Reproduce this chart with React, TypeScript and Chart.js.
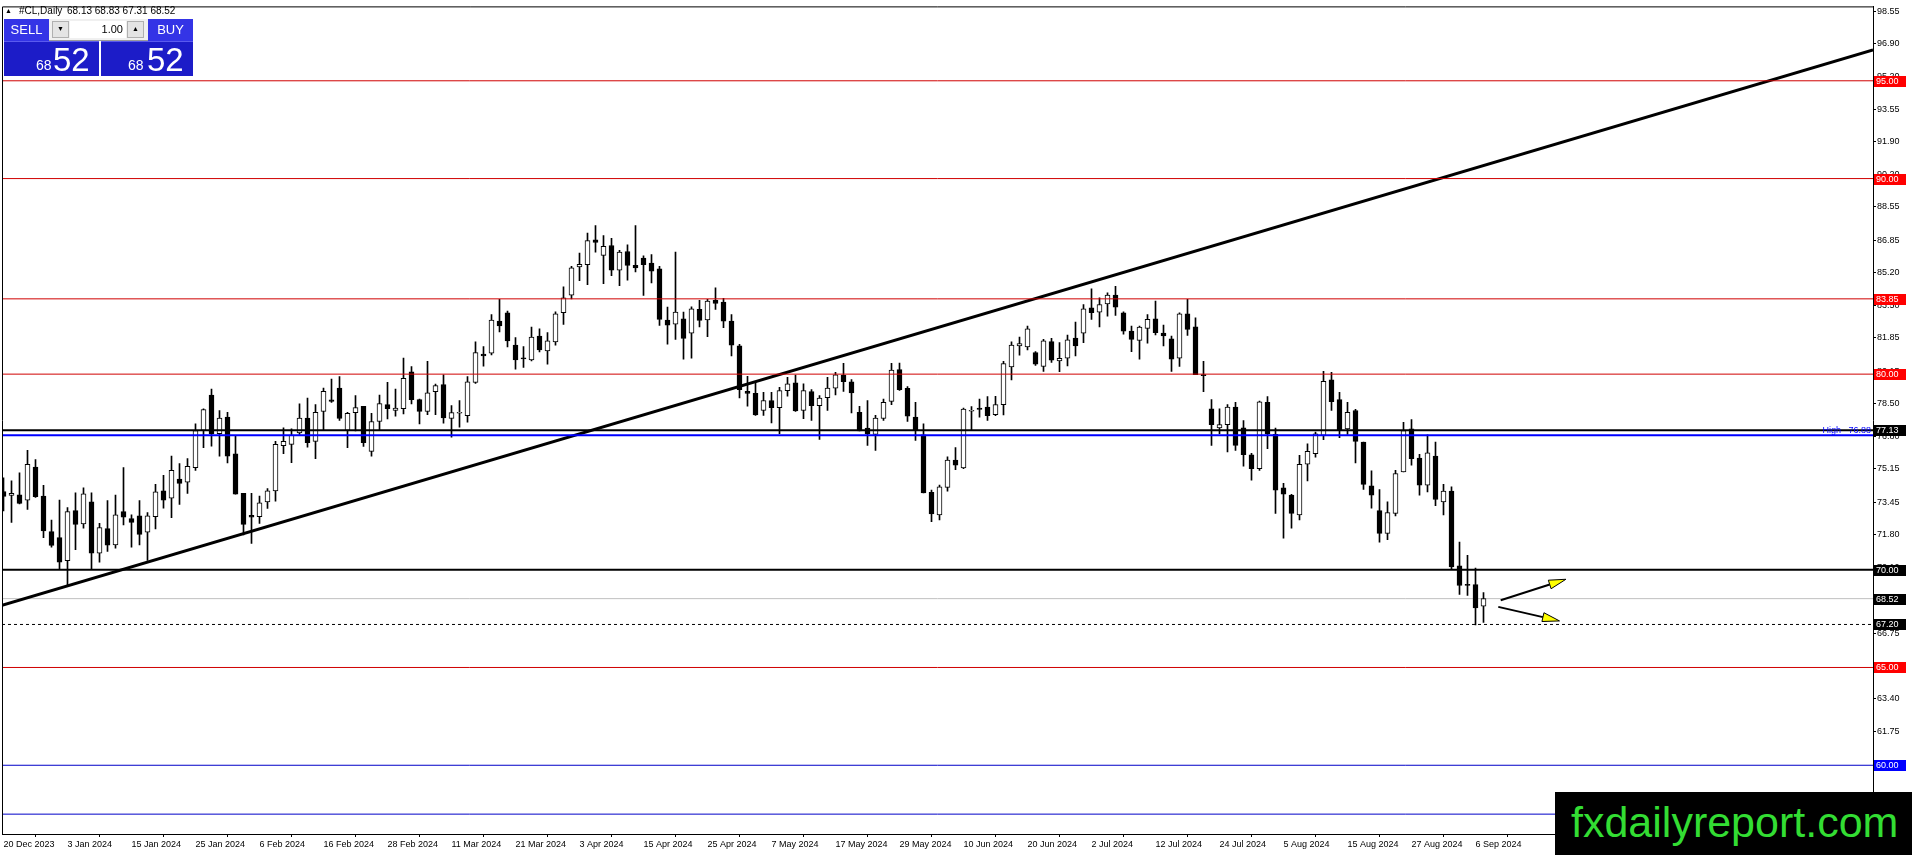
import React, { useEffect, useRef } from "react";
import { Chart, registerables } from "chart.js";

Chart.register(...registerables);

// ---------- data ----------
const symbolTitle = "#CL,Daily";
const headerQuote = [68.13, 68.83, 67.31, 68.52];
const lotSize = "1.00";
const bidBig = "52";
const bidSmall = "68";

const opens = [
  74.0, 73.8, 73.83, 73.56, 75.25, 73.76, 71.95, 71.64, 70.46, 73.02,
  72.34, 73.47, 70.85, 72.1, 71.27, 72.97, 72.61, 72.76, 71.92, 72.71,
  74.03, 73.66, 74.64, 74.47, 75.22, 77.12, 78.93, 76.95, 77.8, 75.92,
  73.9, 72.78, 72.71, 73.47, 74.03, 76.34, 76.41, 77.0, 77.75, 76.56,
  78.09, 78.68, 79.29, 77.12, 78.03, 78.36, 76.05, 77.58, 78.44, 78.14,
  78.24, 80.12, 78.7, 78.09, 79.1, 79.46, 77.73, 78.0, 77.88, 79.58,
  81.02, 81.07, 82.71, 83.14, 81.49, 80.82, 80.73, 81.95, 81.19, 81.65,
  83.14, 84.04, 85.48, 85.6, 86.87, 86.07, 86.58, 85.31, 86.27, 85.56,
  85.94, 85.68, 85.38, 82.77, 82.55, 82.83, 82.09, 83.31, 82.77, 83.77,
  83.68, 82.71, 81.45, 79.12, 79.02, 78.14, 78.65, 78.28, 79.16, 79.56,
  78.14, 79.11, 78.39, 78.8, 79.28, 79.95, 79.61, 78.05, 77.24, 76.92,
  77.73, 78.61, 80.23, 79.28, 77.8, 76.9, 73.95, 72.8, 74.21, 75.6,
  75.21, 78.1, 78.26, 78.31, 77.93, 78.44, 80.37, 81.44, 81.39, 81.1,
  80.39, 81.66, 80.68, 80.81, 81.85, 82.09, 83.39, 83.17, 83.59, 84.04,
  83.14, 82.2, 81.73, 82.34, 82.83, 82.1, 81.81, 80.81, 83.09, 82.42,
  79.97, 78.22, 77.25, 77.42, 78.31, 77.26, 75.88, 75.17, 78.56, 76.92,
  74.19, 73.81, 72.8, 75.39, 75.93, 76.87, 79.71, 78.7, 77.2, 78.14,
  76.53, 74.29, 73.02, 71.86, 72.88, 75.0, 77.2, 75.71, 74.32, 75.81,
  73.46, 74.02, 70.2, 69.22, 69.24, 68.13,
];
const highs = [
  74.7, 74.54, 74.95, 76.1, 75.63, 74.32, 72.54, 73.56, 73.17, 73.93,
  74.19, 73.93, 72.37, 73.53, 73.81, 75.22, 72.8, 73.53, 72.92, 74.36,
  74.83, 75.81, 75.42, 75.68, 77.46, 78.22, 79.24, 78.14, 78.05, 76.83,
  73.9, 73.9, 73.76, 74.15, 76.56, 77.26, 77.2, 78.48, 78.78, 78.44,
  79.29, 79.75, 79.88, 78.05, 78.9, 78.36, 78.0, 78.93, 79.58, 79.24,
  80.82, 80.39, 78.73, 80.65, 79.49, 79.97, 78.39, 78.65, 79.88, 81.65,
  81.41, 83.05, 83.82, 83.22, 81.87, 81.41, 82.41, 82.32, 82.12, 83.19,
  84.46, 85.51, 86.19, 87.21, 87.6, 87.09, 86.95, 86.33, 86.61, 87.6,
  86.05, 86.11, 85.51, 83.43, 86.24, 83.17, 83.44, 83.77, 83.82, 84.41,
  83.87, 83.05, 81.53, 79.89, 79.58, 79.07, 79.07, 79.33, 79.84, 79.95,
  79.5, 79.21, 78.9, 79.84, 80.09, 80.55, 79.72, 78.36, 78.65, 77.89,
  78.73, 80.55, 80.56, 79.36, 78.56, 77.46, 74.07, 74.33, 75.77, 76.24,
  78.26, 78.34, 78.73, 78.85, 78.87, 80.65, 81.65, 81.9, 82.46, 81.15,
  81.78, 81.83, 81.61, 82.0, 82.66, 83.56, 84.36, 83.9, 84.16, 84.49,
  83.19, 82.46, 82.46, 83.05, 83.73, 82.51, 81.95, 83.14, 83.82, 82.88,
  80.65, 78.7, 78.22, 78.44, 78.56, 77.63, 75.95, 78.62, 78.85, 77.24,
  74.41, 73.85, 75.85, 76.44, 77.04, 80.14, 80.09, 79.07, 78.56, 78.2,
  76.53, 75.05, 74.1, 73.47, 75.08, 77.54, 77.68, 75.9, 76.9, 76.53,
  74.36, 74.24, 71.41, 70.73, 70.08, 68.83,
];
const lows = [
  73.0, 72.42, 73.36, 73.08, 73.7, 71.64, 71.15, 70.0, 69.15, 71.02,
  72.12, 70.0, 70.39, 70.93, 71.1, 72.29, 71.15, 71.27, 70.47, 72.08,
  73.14, 72.66, 73.34, 73.9, 75.08, 76.24, 76.32, 75.8, 75.46, 73.86,
  71.78, 71.35, 72.37, 73.13, 73.51, 75.93, 75.47, 76.92, 76.27, 75.68,
  77.12, 78.55, 77.63, 76.24, 77.09, 76.31, 75.8, 77.12, 77.71, 77.85,
  77.97, 78.48, 77.46, 77.93, 77.93, 77.49, 76.78, 77.29, 77.54, 79.53,
  80.41, 80.98, 82.16, 81.39, 80.26, 80.34, 80.68, 81.14, 80.51, 81.48,
  82.54, 83.85, 84.78, 84.58, 86.24, 84.63, 85.04, 84.53, 84.8, 85.23,
  84.02, 84.67, 82.49, 81.53, 81.78, 80.77, 80.82, 82.41, 81.92, 83.31,
  82.37, 80.93, 78.78, 78.36, 77.89, 77.89, 77.51, 76.95, 78.87, 78.09,
  77.72, 77.63, 76.66, 78.14, 78.94, 79.11, 78.02, 77.09, 76.36, 76.1,
  77.63, 78.44, 79.17, 77.58, 76.61, 73.93, 72.46, 72.54, 74.02, 75.12,
  75.17, 77.12, 77.8, 77.63, 77.88, 77.92, 79.71, 80.97, 81.24, 80.45,
  80.14, 80.6, 80.12, 80.42, 80.93, 81.61, 82.8, 82.41, 82.97, 83.0,
  82.04, 81.15, 80.76, 81.58, 82.0, 81.44, 80.14, 80.39, 81.98, 79.97,
  79.1, 76.36, 76.95, 76.02, 76.1, 75.29, 74.58, 75.08, 76.19, 72.88,
  71.61, 72.12, 72.54, 74.54, 75.76, 76.65, 78.14, 76.75, 76.92, 75.46,
  74.1, 73.14, 71.41, 71.53, 72.75, 75.0, 75.34, 73.81, 73.98, 73.27,
  72.8, 70.0, 68.73, 68.69, 67.17, 67.31,
];
const closes = [
  73.75, 73.9, 73.39, 75.39, 73.73, 71.98, 71.24, 70.39, 72.97, 72.32,
  73.88, 70.85, 72.15, 71.25, 72.8, 72.68, 72.42, 71.81, 72.75, 73.98,
  73.56, 75.08, 74.41, 75.29, 77.12, 78.19, 76.95, 77.75, 75.8, 73.86,
  72.32, 72.68, 73.42, 74.03, 76.41, 76.56, 76.88, 77.75, 76.49, 78.05,
  79.12, 78.61, 77.73, 78.0, 78.29, 76.49, 77.58, 78.49, 78.24, 78.26,
  79.78, 78.7, 78.09, 79.05, 79.41, 77.76, 78.03, 78.02, 79.61, 81.1,
  80.93, 82.77, 82.46, 81.7, 80.73, 80.78, 81.9, 81.24, 81.7, 83.09,
  83.9, 85.43, 85.61, 86.83, 86.73, 86.53, 85.31, 86.24, 85.56, 85.43,
  85.6, 85.26, 82.8, 82.51, 83.17, 81.83, 83.34, 82.75, 83.73, 83.61,
  82.71, 81.48, 79.21, 79.02, 77.92, 78.65, 78.28, 79.16, 79.51, 78.12,
  79.16, 78.39, 78.78, 79.29, 79.97, 79.61, 79.04, 77.09, 76.95, 77.75,
  78.56, 80.21, 79.21, 77.85, 77.12, 73.93, 72.85, 74.24, 75.6, 75.34,
  78.21, 78.12, 78.19, 77.88, 78.44, 80.54, 81.49, 81.56, 82.32, 80.51,
  81.7, 80.71, 80.81, 81.75, 81.44, 83.34, 83.14, 83.56, 84.04, 83.42,
  82.2, 81.78, 82.41, 82.8, 82.12, 81.95, 80.76, 83.09, 82.29, 79.97,
  79.92, 77.41, 77.42, 78.31, 76.36, 75.88, 75.17, 78.59, 76.95, 74.07,
  73.86, 72.88, 75.39, 76.05, 76.95, 79.63, 78.59, 77.12, 78.05, 76.56,
  74.36, 73.81, 71.86, 72.92, 74.92, 77.12, 75.68, 74.32, 75.97, 73.59,
  74.02, 70.14, 69.19, 69.2, 68.05, 68.52,
];

const xTickBars = [0, 8, 16, 24, 32, 40, 48, 56, 64, 72, 80, 88, 96, 104, 112, 120, 128, 136, 144, 152, 160, 168, 176, 184];
const xTickLabels = [
  "20 Dec 2023", "3 Jan 2024", "15 Jan 2024", "25 Jan 2024", "6 Feb 2024", "16 Feb 2024",
  "28 Feb 2024", "11 Mar 2024", "21 Mar 2024", "3 Apr 2024", "15 Apr 2024", "25 Apr 2024",
  "7 May 2024", "17 May 2024", "29 May 2024", "10 Jun 2024", "20 Jun 2024", "2 Jul 2024",
  "12 Jul 2024", "24 Jul 2024", "5 Aug 2024", "15 Aug 2024", "27 Aug 2024", "6 Sep 2024",
];
const yTickValues = [
  98.55, 96.9, 95.2, 93.55, 91.9, 90.2, 88.55, 86.85, 85.2, 83.5, 81.85, 80.15,
  78.5, 76.8, 75.15, 73.45, 71.8, 70.1, 68.45, 66.75, 65.1, 63.4, 61.75, 60.05,
];

const redLevels = [95, 90, 83.85, 80, 65];
const blackLevels = [77.13, 70];
const blueLevels = [60, 57.5];
const highLevel = 76.88;
const bidLevel = 68.52;
const lowMarkLevel = 67.2;
const blackTagLevels = [77.13, 70, 68.52, 67.2];

const trendBars = [-0.19, 233.69];
const trendPrices = [68.18, 96.58];

const arrowStartBars = [187.15, 186.85];
const arrowStartPrices = [68.44, 68.1];
const arrowEndBars = [195.3, 194.5];
const arrowEndPrices = [69.51, 67.38];

const logoText = "fxdailyreport.com";

// ---------- axis window ----------
const X_MIN = -0.1875;
const X_MAX = 233.6875;
const Y_MIN = 56.485;
const Y_MAX = 98.804;

const AXIS_FONT = '"Liberation Sans", Arial, sans-serif';

function levelLine(v: number, color: string, width: number, order: number, dash: number[] = []) {
  return {
    type: "line" as const,
    data: [
      { x: X_MIN, y: v },
      { x: X_MAX, y: v },
    ],
    borderColor: color,
    borderWidth: width,
    borderDash: dash,
    pointRadius: 0,
    fill: false,
    order,
  };
}

const overlayPlugin = {
  id: "mt4Overlay",
  afterDatasetsDraw(chart: any) {
    const { ctx, chartArea: a, scales } = chart;
    const xs = scales.x;
    const ys = scales.y;
    ctx.save();
    ctx.beginPath();
    ctx.rect(a.left, a.top, a.right - a.left, a.bottom - a.top);
    ctx.clip();
    for (let k = 0; k < arrowStartBars.length; k++) {
      const x1 = xs.getPixelForValue(arrowStartBars[k]);
      const y1 = ys.getPixelForValue(arrowStartPrices[k]);
      const x2 = xs.getPixelForValue(arrowEndBars[k]);
      const y2 = ys.getPixelForValue(arrowEndPrices[k]);
      const ang = Math.atan2(y2 - y1, x2 - x1);
      const len = 17;
      const hw = 4.5;
      const bx = x2 - len * Math.cos(ang);
      const by = y2 - len * Math.sin(ang);
      ctx.strokeStyle = "#000";
      ctx.lineWidth = 2;
      ctx.beginPath();
      ctx.moveTo(x1, y1);
      ctx.lineTo(bx, by);
      ctx.stroke();
      ctx.beginPath();
      ctx.moveTo(x2, y2);
      ctx.lineTo(bx + hw * Math.sin(ang), by - hw * Math.cos(ang));
      ctx.lineTo(bx - hw * Math.sin(ang), by + hw * Math.cos(ang));
      ctx.closePath();
      ctx.fillStyle = "#ffff00";
      ctx.fill();
      ctx.lineWidth = 1;
      ctx.stroke();
    }
    ctx.font = `9px ${AXIS_FONT}`;
    ctx.fillStyle = "#0000ff";
    ctx.textAlign = "right";
    ctx.textBaseline = "bottom";
    ctx.fillText(`High   ${highLevel.toFixed(2)}`, a.right - 2, ys.getPixelForValue(highLevel) - 0.5);
    ctx.restore();
  },
  afterDraw(chart: any) {
    const { ctx, chartArea: a, scales } = chart;
    const ys = scales.y;
    ctx.save();
    ctx.strokeStyle = "#000";
    ctx.lineWidth = 1;
    ctx.beginPath();
    ctx.moveTo(a.left + 0.5, a.bottom);
    ctx.lineTo(a.left + 0.5, a.top + 0.5);
    ctx.lineTo(a.right, a.top + 0.5);
    ctx.stroke();
    const tags: [number, string][] = [];
    redLevels.forEach((v) => tags.push([v, "#ff0000"]));
    blackTagLevels.forEach((v) => tags.push([v, "#000000"]));
    blueLevels.forEach((v) => tags.push([v, "#0000ff"]));
    ctx.font = `9px ${AXIS_FONT}`;
    ctx.textAlign = "left";
    ctx.textBaseline = "middle";
    for (const [v, bg] of tags) {
      const py = Math.round(ys.getPixelForValue(v));
      ctx.fillStyle = bg;
      ctx.fillRect(a.right + 1, py - 5, 32, 11);
      ctx.fillStyle = "#ffffff";
      ctx.fillText(v.toFixed(2), a.right + 3, py + 0.5);
    }
    ctx.restore();
  },
};

export default function App() {
  const canvasRef = useRef<HTMLCanvasElement | null>(null);

  useEffect(() => {
    if (!canvasRef.current) return;
    const bodies = opens.map((o, i) => ({ x: i, y: [o, closes[i]] }));
    const wicks = lows.map((l, i) => ({ x: i, y: [l, highs[i]] }));
    const chart = new Chart(canvasRef.current, {
      type: "bar",
      data: {
        datasets: [
          ...redLevels.map((v) => levelLine(v, "#d00000", 1, 0)),
          ...blackLevels.map((v) => levelLine(v, "#000000", 2, 0)),
          ...blueLevels.map((v) => levelLine(v, "#0000c8", 1, 0)),
          levelLine(highLevel, "#0000ff", 2, 0),
          levelLine(bidLevel, "#c0c0c0", 1, 5),
          levelLine(lowMarkLevel, "#000000", 1, 0, [3, 3]),
          {
            type: "line" as const,
            data: trendBars.map((b, i) => ({ x: b, y: trendPrices[i] })),
            borderColor: "#000000",
            borderWidth: 3,
            pointRadius: 0,
            fill: false,
            order: 0,
          },
          {
            type: "bar" as const,
            data: bodies as any,
            backgroundColor: opens.map((o, i) => (closes[i] >= o ? "#ffffff" : "#000000")),
            borderColor: "#000000",
            borderWidth: 1,
            borderSkipped: false,
            barThickness: 5,
            minBarLength: 1,
            grouped: false,
            order: 1,
          },
          {
            type: "bar" as const,
            data: wicks as any,
            backgroundColor: "#000000",
            borderWidth: 0,
            barThickness: 1,
            grouped: false,
            order: 2,
          },
        ] as any,
      },
      options: {
        animation: false,
        responsive: false,
        devicePixelRatio: 1,
        events: [],
        layout: { padding: { left: 2, top: 2, right: 0, bottom: 0 } },
        plugins: { legend: { display: false }, tooltip: { enabled: false } },
        scales: {
          x: {
            type: "linear",
            min: X_MIN,
            max: X_MAX,
            offset: false,
            border: { display: true, color: "#000000", width: 1 },
            grid: { display: true, drawOnChartArea: false, drawTicks: true, tickLength: 3, color: "#000000" },
            afterBuildTicks: (scale: any) => {
              scale.ticks = xTickBars.map((v) => ({ value: v }));
            },
            afterFit: (scale: any) => {
              scale.height = 21;
            },
            ticks: {
              autoSkip: false,
              maxRotation: 0,
              minRotation: 0,
              align: "start",
              padding: 2,
              color: "#000000",
              font: { family: AXIS_FONT, size: 9 },
              callback: (v: any) => {
                const k = xTickBars.indexOf(Math.round(Number(v)));
                return k >= 0 ? xTickLabels[k] : "";
              },
            },
          },
          y: {
            type: "linear",
            position: "right",
            min: Y_MIN,
            max: Y_MAX,
            border: { display: true, color: "#000000", width: 1 },
            grid: { display: true, drawOnChartArea: false, drawTicks: true, tickLength: 3, color: "#000000" },
            afterBuildTicks: (scale: any) => {
              scale.ticks = yTickValues.map((v) => ({ value: v }));
            },
            afterFit: (scale: any) => {
              scale.width = 39;
            },
            ticks: {
              autoSkip: false,
              padding: 1,
              color: "#000000",
              font: { family: AXIS_FONT, size: 9 },
              callback: (v: any) => Number(v).toFixed(2),
            },
          },
        },
      } as any,
      plugins: [overlayPlugin as any],
    });
    return () => chart.destroy();
  }, []);

  const narrow = '"Liberation Sans Narrow", "Liberation Sans", Arial, sans-serif';
  const btnBlue = "#3434e6";
  const blockBlue = "#1c1cc8";

  return (
    <div style={{ position: "fixed", left: 0, top: 0, width: 1912, height: 855, background: "#ffffff", overflow: "hidden" }}>
      <canvas ref={canvasRef} width={1912} height={855} style={{ position: "absolute", left: 0, top: 0, width: 1912, height: 855 }} />
      {/* title */}
      <div style={{ position: "absolute", left: 5, top: 5, fontFamily: AXIS_FONT, fontSize: 10, lineHeight: "12px", color: "#000", whiteSpace: "pre" }}>
        <span style={{ fontSize: 7, position: "relative", top: -1 }}>▲</span>
        <span style={{ position: "absolute", left: 14 }}>{symbolTitle}</span>
        <span style={{ position: "absolute", left: 62 }}>{headerQuote.map((v) => v.toFixed(2)).join(" ")}</span>
      </div>
      {/* one-click panel */}
      <div style={{ position: "absolute", left: 4, top: 19, width: 45, height: 22, background: btnBlue, color: "#fff", fontFamily: narrow, fontSize: 13, lineHeight: "22px", textAlign: "center" }}>SELL</div>
      <div style={{ position: "absolute", left: 49, top: 19, width: 99, height: 22, background: "#f0f0f0", borderBottom: "1px solid #9a9a9a", boxSizing: "border-box" }}>
        <div style={{ position: "absolute", left: 3, top: 2, width: 17, height: 17, background: "#e4e4e4", border: "1px solid #b0b0b0", boxSizing: "border-box", fontSize: 7, textAlign: "center", lineHeight: "15px", color: "#000" }}>▼</div>
        <div style={{ position: "absolute", left: 21, top: 2, width: 56, height: 17, background: "#ffffff", fontFamily: AXIS_FONT, fontSize: 11, lineHeight: "17px", textAlign: "right", paddingRight: 3, boxSizing: "border-box", color: "#000" }}>{lotSize}</div>
        <div style={{ position: "absolute", left: 78, top: 2, width: 17, height: 17, background: "#e4e4e4", border: "1px solid #b0b0b0", boxSizing: "border-box", fontSize: 7, textAlign: "center", lineHeight: "15px", color: "#000" }}>▲</div>
      </div>
      <div style={{ position: "absolute", left: 148, top: 19, width: 45, height: 22, background: btnBlue, color: "#fff", fontFamily: narrow, fontSize: 13, lineHeight: "22px", textAlign: "center" }}>BUY</div>
      <div style={{ position: "absolute", left: 4, top: 41, width: 95, height: 35, background: blockBlue, borderTop: "1px solid #5a5aee", boxSizing: "border-box", color: "#fff", fontFamily: narrow }}>
        <span style={{ position: "absolute", left: 32, top: 16, fontSize: 14, lineHeight: "14px" }}>{bidSmall}</span>
        <span style={{ position: "absolute", left: 49, top: 2, fontSize: 33, lineHeight: "32px" }}>{bidBig}</span>
      </div>
      <div style={{ position: "absolute", left: 101, top: 41, width: 92, height: 35, background: blockBlue, borderTop: "1px solid #5a5aee", boxSizing: "border-box", color: "#fff", fontFamily: narrow }}>
        <span style={{ position: "absolute", left: 27, top: 16, fontSize: 14, lineHeight: "14px" }}>{bidSmall}</span>
        <span style={{ position: "absolute", left: 46, top: 2, fontSize: 33, lineHeight: "32px" }}>{bidBig}</span>
      </div>
      {/* watermark */}
      <div style={{ position: "absolute", left: 1555, top: 792, width: 357, height: 63, background: "#000000", color: "#33dd33", fontFamily: '"Liberation Sans", Arial, sans-serif', fontSize: 43, lineHeight: "60px", paddingLeft: 16, boxSizing: "border-box", whiteSpace: "nowrap" }}>
        {logoText}
      </div>
    </div>
  );
}
